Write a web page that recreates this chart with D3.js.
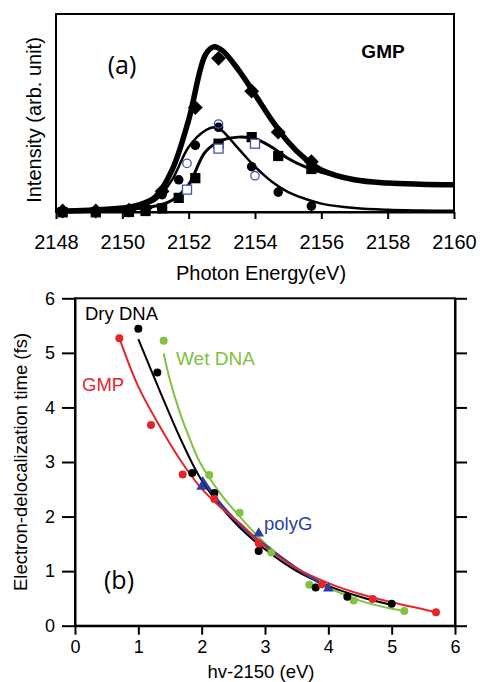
<!DOCTYPE html>
<html>
<head>
<meta charset="utf-8">
<script src="https://cdn.jsdelivr.net/npm/d3@7/dist/d3.min.js"></script>
<style>
body{margin:0;background:#fff}
svg{display:block}
text{font-family:"Liberation Sans",Arial,sans-serif}
.tag{font-family:"Open Sans","Noto Sans",sans-serif}
</style>
</head>
<body>
<svg id="chart" width="482" height="682"></svg>
<script>
// ---- panel (a) data ----
var energyTicks = [2148,2150,2152,2154,2156,2158,2160];

var totalE = [2148,2149,2150,2150.5,2151,2151.5,2152,2152.5,2152.75,2153,2153.5,2154,2154.5,2155,2155.5,2156,2157,2158,2159,2160];
var totalI = [0,0.005,0.018,0.037,0.087,0.25,0.555,0.95,1.0,0.98,0.86,0.71,0.555,0.42,0.32,0.25,0.19,0.17,0.163,0.16];

var circE = [2148,2149,2150,2150.5,2151,2151.5,2152,2152.5,2152.8,2153,2153.5,2154,2154.5,2155,2155.5,2156,2157,2158,2159,2160];
var circI = [0,0.003,0.012,0.03,0.065,0.19,0.39,0.49,0.51,0.49,0.38,0.27,0.18,0.115,0.075,0.045,0.018,0.007,0.003,0.001];

var sqE = [2148,2149,2150,2150.5,2151,2151.5,2152,2152.5,2153,2153.5,2154,2154.5,2155,2155.5,2156,2157,2158,2159,2160];
var sqI = [0,0.002,0.008,0.015,0.03,0.065,0.16,0.36,0.43,0.45,0.44,0.39,0.32,0.27,0.235,0.19,0.17,0.162,0.16];

var diamondE = [2148.2,2149.2,2150.2,2150.7,2151.2,2152.2,2152.9,2153.9,2154.7,2155.7];
var diamondI = [0,0,0.005,0.02,0.12,0.63,0.93,0.73,0.48,0.30];
var dotE = [2148.2,2149.2,2150.2,2150.7,2151.2,2151.7,2152.2,2152.9,2153.9,2154.7,2155.7];
var dotI = [0,0,0.003,0.01,0.1,0.19,0.40,0.51,0.27,0.115,0.03];
var boxE = [2148.2,2149.2,2150.2,2150.7,2151.2,2151.7,2152.2,2152.9,2153.9,2154.7,2155.7];
var boxI = [-0.008,-0.008,-0.006,0,0.016,0.08,0.2,0.41,0.45,0.335,0.256];
var openCircE = [2151.95,2152.9,2154.0];
var openCircI = [0.29,0.53,0.215];
var openBoxE = [2151.95,2152.9,2154.0];
var openBoxI = [0.13,0.38,0.41];

// ---- panel (b) data ----
var timeTicks = [0,1,2,3,4,5,6];

var gmpX = [0.7,1.2,1.7,2.2,2.9,3.9,4.7,5.7];
var gmpY = [5.27,3.68,2.77,2.32,1.51,0.76,0.49,0.245];
var dryX = [1.0,1.3,1.85,2.2,2.9,3.8,4.3,5.0];
var dryY = [5.44,4.64,2.80,2.43,1.37,0.70,0.53,0.40];
var wetX = [1.4,2.12,2.6,3.1,3.7,4.4,5.2];
var wetY = [5.22,2.76,2.07,1.34,0.75,0.46,0.27];
var polyX = [2.0,2.9,4.0];
var polyY = [2.55,1.69,0.685];

var gmpFitX = [0.7,1.0,1.34,1.66,1.97,2.29,2.6,3.0,3.5,4.0,4.5,5.0,5.5,5.7];
var gmpFitY = [5.27,4.38,3.65,3.04,2.55,2.18,1.88,1.45,1.05,0.78,0.58,0.43,0.3,0.245];
var dryFitX = [1.0,1.34,1.66,1.97,2.29,2.6,3.0,3.5,4.0,4.5,5.0];
var dryFitY = [5.25,4.3,3.44,2.72,2.2,1.8,1.4,1.0,0.73,0.53,0.38];
var wetFitX = [1.4,1.5,1.66,1.82,1.97,2.29,2.6,3.0,3.5,4.0,4.5,5.0,5.2];
var wetFitY = [4.99,4.5,3.89,3.4,3.0,2.43,2.0,1.51,1.02,0.7,0.46,0.31,0.27];
var polyFitX = [2.0,2.25,2.5,2.75,3.0,3.5,4.0];
var polyFitY = [2.72,2.3,1.97,1.7,1.47,1.05,0.7];

var red = "#e4262a", green = "#80c242", blue = "#2c3f9e", openBlue = "#4453b0";

var svg = d3.select("#chart");
function zip(a,b){ return a.map(function(d,i){ return [d,b[i]]; }); }

// ================= panel (a) =================
var xA = d3.scaleLinear().domain([2148,2160]).range([56,454]);
var yA = d3.scaleLinear().domain([0,1.2]).range([211,14]);
var ga = svg.append("g");

var lineA = d3.line()
	.x(function(d){return xA(d[0])})
	.y(function(d){return yA(d[1])})
	.curve(d3.curveCatmullRom.alpha(0.5));

ga.append("path").attr("d",lineA(zip(circE,circI)))
	.attr("fill","none").attr("stroke","#000").attr("stroke-width",2.5);
ga.append("path").attr("d",lineA(zip(sqE,sqI)))
	.attr("fill","none").attr("stroke","#000").attr("stroke-width",3);
ga.append("path").attr("d",lineA(zip(totalE,totalI)))
	.attr("fill","none").attr("stroke","#000").attr("stroke-width",5.5);

// markers
ga.selectAll(".dia").data(zip(diamondE,diamondI)).enter().append("path")
	.attr("class","dia")
	.attr("d",d3.symbol().type(d3.symbolSquare).size(110))
	.attr("transform",function(d){return "translate("+xA(d[0])+","+yA(d[1])+") rotate(45)"})
	.attr("fill","#000");
ga.selectAll(".box").data(zip(boxE,boxI)).enter().append("path")
	.attr("class","box")
	.attr("d",d3.symbol().type(d3.symbolSquare).size(105))
	.attr("transform",function(d){return "translate("+xA(d[0])+","+yA(d[1])+")"})
	.attr("fill","#000");
ga.selectAll(".dot").data(zip(dotE,dotI)).enter().append("circle")
	.attr("class","dot")
	.attr("cx",function(d){return xA(d[0])})
	.attr("cy",function(d){return yA(d[1])})
	.attr("r",4.8).attr("fill","#000");
ga.selectAll(".ocirc").data(zip(openCircE,openCircI)).enter().append("circle")
	.attr("class","ocirc")
	.attr("cx",function(d){return xA(d[0])})
	.attr("cy",function(d){return yA(d[1])})
	.attr("r",4.2).attr("fill","none").attr("stroke",openBlue).attr("stroke-width",1.3);
ga.selectAll(".obox").data(zip(openBoxE,openBoxI)).enter().append("rect")
	.attr("class","obox")
	.attr("x",function(d){return xA(d[0])-4.5})
	.attr("y",function(d){return yA(d[1])-4.5})
	.attr("width",9).attr("height",9)
	.attr("fill","#fff").attr("stroke",openBlue).attr("stroke-width",1.3);

// frame + axis
ga.append("rect").attr("x",56).attr("y",14).attr("width",398).attr("height",198)
	.attr("fill","none").attr("stroke","#000").attr("stroke-width",2);
var axA = ga.append("g").attr("transform","translate(0,212)")
	.call(d3.axisBottom(xA).tickValues(energyTicks).tickFormat(d3.format("d")).tickSize(7).tickPadding(16).tickSizeOuter(0));
axA.select(".domain").attr("stroke-width",2);
axA.selectAll(".tick line").attr("stroke-width",2);
axA.selectAll("text").attr("font-size",20).attr("font-family","'Liberation Sans',Arial,sans-serif");

ga.append("text").attr("x",261).attr("y",280).attr("text-anchor","middle")
	.attr("font-size",20).text("Photon Energy(eV)");
ga.append("text").attr("transform","translate(41,120) rotate(-90)").attr("text-anchor","middle")
	.attr("font-size",20).text("Intensity (arb. unit)");
ga.append("text").attr("class","tag").attr("x",122).attr("y",74).attr("text-anchor","middle")
	.attr("font-size",25).text("(a)");
ga.append("text").attr("x",383).attr("y",58).attr("text-anchor","middle")
	.attr("font-size",19).attr("font-weight","bold").text("GMP");

// ================= panel (b) =================
var xB = d3.scaleLinear().domain([0,6]).range([75,455]);
var yB = d3.scaleLinear().domain([0,6]).range([625.7,298.3]);
var gb = svg.append("g");

var lineB = d3.line()
	.x(function(d){return xB(d[0])})
	.y(function(d){return yB(d[1])})
	.curve(d3.curveCatmullRom.alpha(0.5));

var fits = [
	{x:wetFitX,y:wetFitY,c:green,w:2},
	{x:dryFitX,y:dryFitY,c:"#000",w:2},
	{x:polyFitX,y:polyFitY,c:blue,w:3},
	{x:gmpFitX,y:gmpFitY,c:red,w:2}
];
fits.forEach(function(f){
	gb.append("path").attr("d",lineB(zip(f.x,f.y)))
		.attr("fill","none").attr("stroke",f.c).attr("stroke-width",f.w);
});

var pts = [
	{x:wetX,y:wetY,c:green},
	{x:dryX,y:dryY,c:"#000"},
	{x:gmpX,y:gmpY,c:red}
];
pts.forEach(function(p){
	gb.append("g").selectAll("circle").data(zip(p.x,p.y)).enter().append("circle")
		.attr("cx",function(d){return xB(d[0])})
		.attr("cy",function(d){return yB(d[1])})
		.attr("r",4).attr("fill",p.c);
});
gb.append("g").selectAll("path").data(zip(polyX,polyY)).enter().append("path")
	.attr("d",d3.symbol().type(d3.symbolTriangle).size(50))
	.attr("transform",function(d){return "translate("+xB(d[0])+","+yB(d[1])+")"})
	.attr("fill",blue);

// frame + axes
gb.append("rect").attr("x",75).attr("y",298.3).attr("width",380).attr("height",327.4)
	.attr("fill","none").attr("stroke","#000").attr("stroke-width",2);
var axBx = gb.append("g").attr("transform","translate(0,625.7)")
	.call(d3.axisBottom(xB).tickValues(timeTicks).tickFormat(d3.format("d")).tickSize(9).tickPadding(6).tickSizeOuter(0));
var axBy = gb.append("g").attr("transform","translate(75,0)")
	.call(d3.axisLeft(yB).tickValues(timeTicks).tickFormat(d3.format("d")).tickSize(13).tickPadding(7).tickSizeOuter(0));
var axBr = gb.append("g").attr("transform","translate(455,0)")
	.call(d3.axisRight(yB).tickValues(timeTicks).tickSize(12).tickFormat("").tickSizeOuter(0));
[axBx,axBy,axBr].forEach(function(a){
	a.select(".domain").attr("stroke-width",2);
	a.selectAll(".tick line").attr("stroke-width",2);
	a.selectAll("text").attr("font-size",18).attr("font-family","'Liberation Sans',Arial,sans-serif");
});

gb.append("text").attr("x",261).attr("y",678).attr("text-anchor","middle")
	.attr("font-size",18.5).text("hv-2150 (eV)");
gb.append("text").attr("transform","translate(27,462) rotate(-90)").attr("text-anchor","middle")
	.attr("font-size",18.5).text("Electron-delocalization time (fs)");
gb.append("text").attr("class","tag").attr("x",119).attr("y",589).attr("text-anchor","middle")
	.attr("font-size",25).text("(b)");

gb.append("text").attr("x",85).attr("y",320).attr("font-size",18.5).attr("fill","#000").text("Dry DNA");
gb.append("text").attr("x",176).attr("y",365).attr("font-size",19).attr("fill",green).text("Wet DNA");
gb.append("text").attr("x",82).attr("y",391).attr("font-size",18.5).attr("fill",red).text("GMP");
gb.append("text").attr("x",264).attr("y",530).attr("font-size",18.5).attr("fill",blue).text("polyG");
</script>
</body>
</html>
